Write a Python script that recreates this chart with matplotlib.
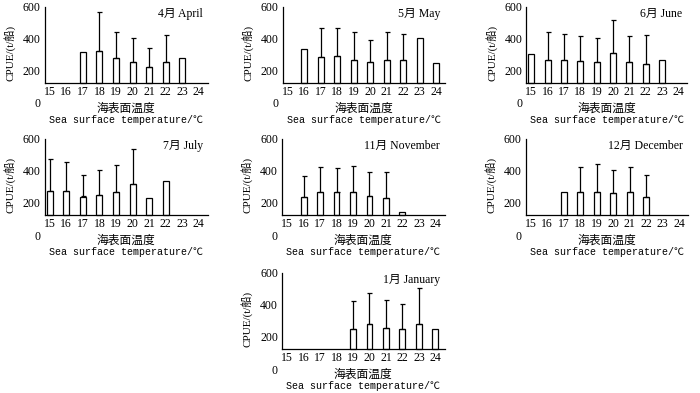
import numpy as np
import matplotlib
matplotlib.use('Agg')
import matplotlib.pyplot as plt

plt.rcParams['font.family'] = ['Liberation Serif', 'Noto Sans CJK SC']

# 海表面温度 (℃)
temps = [15, 16, 17, 18, 19, 20, 21, 22, 23, 24]
nan = np.nan

# CPUE mean and standard deviation (upper whisker only)
apr_mean = [nan, nan, 320, 325, 280, 255, 225, 255, 280, nan]
apr_sd   = [0, 0, 0, 240, 165, 150, 120, 170, 0, 0]
may_mean = [nan, 335, 285, 290, 270, 255, 270, 265, 405, 250]
may_sd   = [0, 0, 185, 175, 170, 140, 175, 165, 0, 0]
jun_mean = [305, 270, 265, 260, 255, 310, 255, 245, 270, nan]
jun_sd   = [0, 170, 165, 160, 150, 210, 165, 180, 0, 0]
jul_mean = [275, 275, 240, 250, 270, 320, 230, 335, nan, nan]
jul_sd   = [200, 180, 135, 155, 165, 215, 0, 0, 0, 0]
nov_mean = [nan, 235, 265, 265, 265, 245, 230, 145, nan, nan]
nov_sd   = [0, 135, 160, 155, 165, 150, 165, 0, 0, 0]
dec_mean = [nan, nan, 270, 265, 270, 260, 265, 235, nan, nan]
dec_sd   = [0, 0, 0, 160, 170, 145, 160, 140, 0, 0]
jan_mean = [nan, nan, nan, nan, 250, 280, 255, 250, 280, 250]
jan_sd   = [0, 0, 0, 0, 175, 195, 175, 155, 225, 0]

month_labels = ['4月 April', '5月 May', '6月 June', '7月 July',
                '11月 November', '12月 December', '1月 January']
means = [apr_mean, may_mean, jun_mean, jul_mean, nov_mean, dec_mean, jan_mean]
sds = [apr_sd, may_sd, jun_sd, jul_sd, nov_sd, dec_sd, jan_sd]

# axes rectangles in figure fraction
positions = [(0.064, 0.738, 0.233, 0.245),
             (0.404, 0.738, 0.232, 0.245),
             (0.752, 0.738, 0.230, 0.245),
             (0.064, 0.402, 0.233, 0.245),
             (0.403, 0.402, 0.232, 0.245),
             (0.751, 0.402, 0.232, 0.245),
             (0.403, 0.061, 0.232, 0.245)]

base = 125   # level of the drawn x axis line

fig = plt.figure(figsize=(7, 3.93), dpi=100)

for pos, lab, m, s in zip(positions, month_labels, means, sds):
    ax = fig.add_axes(pos)
    x = np.array(temps, dtype=float)
    m = np.array(m, dtype=float)
    s = np.array(s, dtype=float)
    ok = ~np.isnan(m)
    ax.bar(x[ok], m[ok] - base, bottom=base, width=0.36,
           facecolor='white', edgecolor='black', linewidth=0.9, zorder=2)
    e = ok & (s > 0)
    ax.errorbar(x[e], m[e], yerr=[np.zeros(e.sum()), s[e]], fmt='none',
                ecolor='black', elinewidth=0.9, capsize=1.8, capthick=0.9, zorder=3)

    ax.set_xlim(14.7, 24.55)
    ax.set_ylim(0, 600)
    ax.set_xticks(temps)
    ax.set_yticks([0, 200, 400, 600])
    ax.tick_params(length=0, labelsize=8.5)
    ax.tick_params(axis='x', pad=2)
    ax.tick_params(axis='y', pad=3)
    for sp in ['top', 'right']:
        ax.spines[sp].set_visible(False)
    ax.spines['bottom'].set_position(('data', base))
    ax.spines['left'].set_bounds(base, 600)
    for sp in ['bottom', 'left']:
        ax.spines[sp].set_linewidth(0.9)

    ax.set_ylabel('CPUE/(t/船)', fontsize=8)
    ax.yaxis.set_label_coords(-0.18, 0.52)
    ax.text(0.97, 0.92, lab, transform=ax.transAxes, ha='right', va='center',
            fontsize=8.5)
    ax.text(0.5, -0.05, '海表面温度', transform=ax.transAxes, ha='center',
            va='center', fontsize=8.5, family=['Noto Sans CJK SC'])
    ax.text(0.5, -0.18, 'Sea surface temperature/℃', transform=ax.transAxes,
            ha='center', va='center', fontsize=7.2,
            family=['Liberation Mono', 'Noto Sans CJK SC'])

fig.savefig('out.png', dpi=100)
